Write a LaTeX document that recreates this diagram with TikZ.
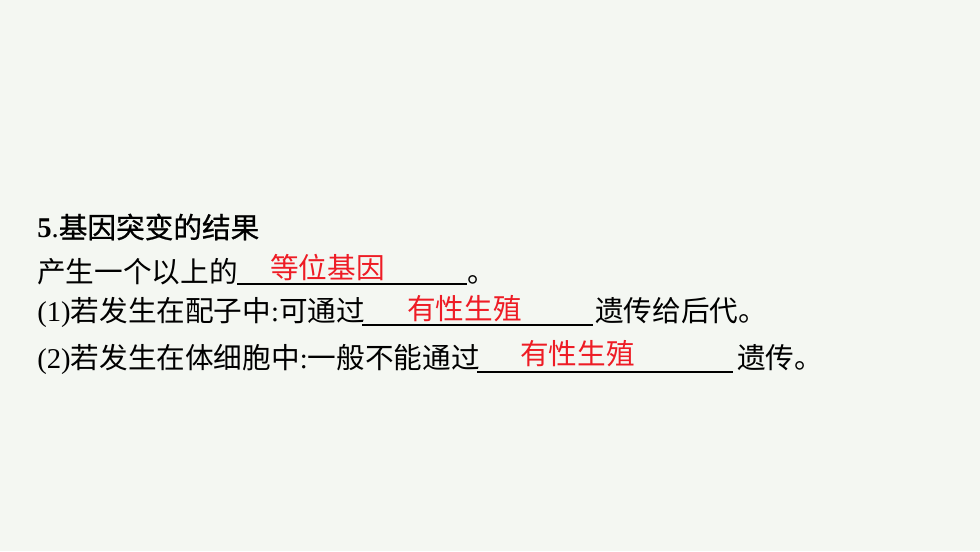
\documentclass[tikz,border=0pt]{standalone}
\usepackage{fontspec}
\setmainfont{Liberation Serif}
\newfontfamily\cjk{Noto Sans CJK SC}
\newfontfamily\cjkhead[FakeBold=0.8]{Noto Sans CJK SC}
\definecolor{slidebg}{HTML}{F4F7F2}
\definecolor{answer}{HTML}{EE1C25}
\begin{document}
\begin{tikzpicture}
      [x=0.02cm,y=0.02cm,
      txt/.style={anchor=base west,inner sep=0pt,font=\fontsize{16.3}{20}\selectfont},
      ans/.style={txt,text=answer,font=\fontsize{16.3}{20}\selectfont\cjk},
      blank/.style={line width=0.8pt,black}]
      \fill[slidebg] (0,0) rectangle (980,551);
      % heading
      \node[txt] (h) at (37,313) {\textbf{5}.{\cjkhead 基因突变的结果}};
      % line 2
      \node[txt] (l2) at (37,268) {\cjk 产生一个以上的};
      \coordinate (u2a) at (237,267);
      \coordinate (u2b) at (467,267);
      \draw[blank] (u2a) -- (u2b);
      \node[ans] (a2) at (270,272) {等位基因};
      \node[txt] (e2) at (467,268) {\cjk 。};
      % line 3
      \node[txt] (l3) at (37,229) {(1){\cjk 若发生在配子中}:{\cjk 可通过}};
      \coordinate (u3a) at (362,226);
      \coordinate (u3b) at (593,226);
      \draw[blank] (u3a) -- (u3b);
      \node[ans] (a3) at (407,231) {有性生殖};
      \node[txt] (e3) at (595,229) {\cjk 遗传给后代。};
      % line 4
      \node[txt] (l4) at (37,182) {(2){\cjk 若发生在体细胞中}:{\cjk 一般不能通过}};
      \coordinate (u4a) at (477,179);
      \coordinate (u4b) at (733,179);
      \draw[blank] (u4a) -- (u4b);
      \node[ans] (a4) at (520,186) {有性生殖};
      \node[txt] (e4) at (737,182) {\cjk 遗传。};
\end{tikzpicture}
\end{document}
